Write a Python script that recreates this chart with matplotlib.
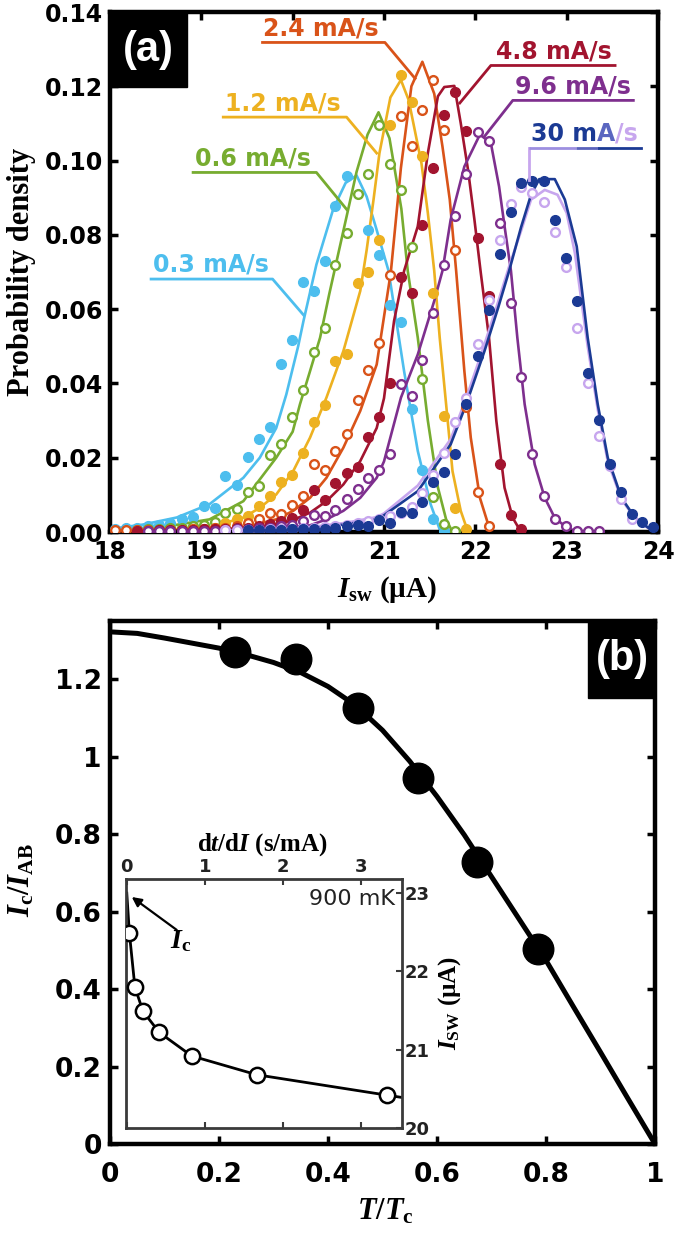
import matplotlib
matplotlib.use('Agg')
import matplotlib.pyplot as plt
from matplotlib.patches import Rectangle
from matplotlib.ticker import FixedLocator, FormatStrFormatter

plt.rcParams['mathtext.fontset'] = 'custom'
plt.rcParams['mathtext.rm'] = 'Liberation Serif:bold'
plt.rcParams['mathtext.it'] = 'Liberation Serif:italic:bold'
plt.rcParams['mathtext.bf'] = 'Liberation Serif:bold'

# ---------------- DATA: panel (a) ----------------
rates = ['0.3 mA/s', '0.6 mA/s', '1.2 mA/s', '2.4 mA/s', '4.8 mA/s', '9.6 mA/s', '30 mA/s']

x03 = [18.05,18.18,18.30,18.42,18.54,18.66,18.79,18.91,19.03,19.15,19.26,19.39,19.51,19.63,19.75,19.87,19.99,20.11,20.23,20.35,20.46,20.59,20.83,20.95,21.07,21.19,21.31,21.42,21.54,21.66]
y03 = [0.0008,0.0010,0.0012,0.0015,0.0020,0.0025,0.0034,0.0040,0.0070,0.0065,0.0151,0.0127,0.0202,0.0251,0.0283,0.0451,0.0517,0.0673,0.0649,0.0730,0.0878,0.0958,0.0814,0.0746,0.0612,0.0566,0.0330,0.0166,0.0034,0.0003]

x06 = [18.30,18.42,18.54,18.66,18.79,18.91,19.03,19.15,19.26,19.39,19.51,19.63,19.75,19.87,19.99,20.11,20.23,20.35,20.46,20.59,20.71,20.83,20.95,21.07,21.19,21.31,21.42,21.54,21.66,21.78]
y06 = [0.0005,0.0007,0.0008,0.0010,0.0012,0.0015,0.0020,0.0028,0.0052,0.0063,0.0108,0.0124,0.0207,0.0236,0.0310,0.0381,0.0485,0.0550,0.0720,0.0805,0.0910,0.0965,0.1097,0.0990,0.0920,0.0768,0.0411,0.0094,0.0021,0.0003]

x12 = [18.42,18.54,18.66,18.79,18.91,19.03,19.15,19.26,19.39,19.51,19.63,19.75,19.87,19.99,20.11,20.23,20.35,20.46,20.59,20.71,20.83,20.95,21.07,21.19,21.31,21.42,21.54,21.66,21.78,21.90]
y12 = [0.0003,0.0004,0.0005,0.0006,0.0008,0.0009,0.0012,0.0025,0.0034,0.0043,0.0070,0.0097,0.0135,0.0153,0.0213,0.0296,0.0341,0.0460,0.0478,0.0671,0.0700,0.0787,0.1095,0.1231,0.1157,0.1011,0.0644,0.0313,0.0064,0.0007]

x24 = [18.05,18.18,18.30,18.42,18.54,18.66,18.79,18.91,19.03,19.15,19.26,19.39,19.51,19.63,19.75,19.87,19.99,20.11,20.23,20.35,20.46,20.59,20.71,20.83,20.95,21.07,21.19,21.31,21.42,21.54,21.66,21.78,21.90,22.03,22.15]
y24 = [0.0005,0.0005,0.0005,0.0005,0.0005,0.0006,0.0006,0.0007,0.0008,0.0010,0.0012,0.0015,0.0025,0.0034,0.0052,0.0049,0.0073,0.0097,0.0184,0.0166,0.0218,0.0265,0.0355,0.0435,0.0510,0.0692,0.1121,0.1038,0.1137,0.1218,0.1083,0.0758,0.0336,0.0108,0.0016]

x48 = [18.30,18.42,18.54,18.66,18.79,18.91,19.03,19.15,19.26,19.39,19.51,19.63,19.75,19.87,19.99,20.11,20.23,20.35,20.46,20.59,20.71,20.83,20.95,21.07,21.19,21.31,21.42,21.54,21.66,21.78,21.90,22.03,22.15,22.27,22.39,22.50]
y48 = [0.0004,0.0004,0.0005,0.0005,0.0006,0.0006,0.0007,0.0008,0.0009,0.0010,0.0012,0.0015,0.0022,0.0030,0.0039,0.0060,0.0112,0.0085,0.0133,0.0160,0.0175,0.0257,0.0310,0.0400,0.0686,0.0644,0.0826,0.0980,0.1123,0.1184,0.1079,0.0792,0.0636,0.0184,0.0047,0.0007]

x96 = [18.42,18.54,18.66,18.79,18.91,19.03,19.15,19.26,19.39,19.51,19.63,19.75,19.87,19.99,20.11,20.23,20.35,20.46,20.59,20.71,20.83,20.95,21.07,21.19,21.31,21.42,21.54,21.66,21.78,21.90,22.03,22.15,22.27,22.39,22.50,22.62,22.75,22.87,22.99,23.11,23.23,23.35]
y96 = [0.0003,0.0003,0.0003,0.0003,0.0003,0.0003,0.0003,0.0005,0.0007,0.0008,0.0010,0.0012,0.0015,0.0018,0.0030,0.0047,0.0042,0.0060,0.0088,0.0115,0.0146,0.0166,0.0211,0.0399,0.0367,0.0462,0.0589,0.0718,0.0850,0.0964,0.1076,0.1052,0.0832,0.0616,0.0416,0.0211,0.0096,0.0034,0.0016,0.0004,0.0003,0.0003]

x30 = [19.51,19.63,19.75,19.87,19.99,20.11,20.23,20.35,20.46,20.59,20.71,20.83,20.95,21.07,21.19,21.31,21.42,21.54,21.66,21.78,21.90,22.03,22.15,22.27,22.39,22.50,22.62,22.75,22.87,22.99,23.11,23.23,23.35,23.47,23.59,23.71,23.83,23.95]
y30 = [0.0005,0.0005,0.0006,0.0006,0.0007,0.0007,0.0008,0.0008,0.0012,0.0017,0.0018,0.0016,0.0031,0.0025,0.0055,0.0052,0.0082,0.0135,0.0162,0.0211,0.0345,0.0474,0.0599,0.0749,0.0861,0.0939,0.0944,0.0944,0.0841,0.0738,0.0622,0.0429,0.0301,0.0184,0.0108,0.0048,0.0028,0.0013]

x30b = [19.26,19.39,19.51,19.63,19.75,19.87,19.99,20.11,20.23,20.35,20.46,20.59,20.71,20.83,20.95,21.07,21.19,21.31,21.42,21.54,21.66,21.78,21.90,22.03,22.15,22.27,22.39,22.50,22.62,22.75,22.87,22.99,23.11,23.23,23.35,23.47,23.59,23.71]
y30b = [0.0005,0.0005,0.0006,0.0006,0.0007,0.0008,0.0009,0.0010,0.0012,0.0014,0.0016,0.0020,0.0025,0.0030,0.0035,0.0043,0.0050,0.0067,0.0106,0.0153,0.0212,0.0295,0.0360,0.0507,0.0625,0.0787,0.0884,0.0930,0.0914,0.0888,0.0809,0.0713,0.0550,0.0402,0.0258,0.0177,0.0090,0.0035]

# fitted curves
fx03 = [18.0,18.36,18.73,19.09,19.46,19.64,19.82,19.93,20.06,20.12,20.26,20.445,20.58,20.70,20.81,20.92,21.05,21.22,21.37,21.51,21.62]
fy03 = [0.0008,0.0020,0.0039,0.0075,0.0146,0.0200,0.0280,0.0370,0.0500,0.0570,0.0720,0.0870,0.0940,0.0960,0.0903,0.0813,0.0703,0.0433,0.0218,0.0075,0.0]
fx06 = [18.0,18.5,19.09,19.46,19.82,20.0,20.08,20.19,20.30,20.4,20.5,20.6,20.7,20.82,20.94,21.06,21.19,21.26,21.37,21.48,21.59,21.68,21.75]
fy06 = [0.0003,0.0010,0.0034,0.0083,0.0200,0.0270,0.0344,0.0433,0.0523,0.0640,0.0750,0.0860,0.0970,0.1070,0.1130,0.1060,0.0870,0.0703,0.0523,0.0300,0.0120,0.0034,0.0]
fx12 = [18.0,18.5,19.09,19.46,19.64,19.82,20.006,20.19,20.37,20.555,20.74,20.81,20.885,20.95,21.07,21.185,21.27,21.41,21.48,21.55,21.61,21.68,21.75,21.84,21.92]
fy12 = [0.0002,0.0005,0.0012,0.0039,0.0065,0.0101,0.0164,0.0254,0.0362,0.0487,0.0649,0.0759,0.0894,0.1020,0.1170,0.1217,0.1163,0.0993,0.0859,0.0703,0.0523,0.0344,0.0164,0.0057,0.0]
fx24 = [18.0,18.5,19.09,19.46,19.82,20.006,20.19,20.37,20.555,20.74,20.92,21.075,21.185,21.30,21.42,21.55,21.64,21.72,21.79,21.88,21.95,22.05,22.14,22.2]
fy24 = [0.0003,0.0004,0.0005,0.0012,0.0034,0.0057,0.0092,0.0146,0.0227,0.0326,0.0451,0.0700,0.0980,0.1200,0.1266,0.1180,0.1038,0.0895,0.0703,0.0433,0.0254,0.0092,0.0021,0.0]
fx48 = [18.0,18.5,19.0,19.46,19.82,19.99,20.19,20.37,20.555,20.74,20.92,21.0,21.11,21.22,21.37,21.48,21.59,21.66,21.77,21.84,21.92,21.99,22.06,22.15,22.23,22.32,22.41,22.5]
fy48 = [0.0002,0.0003,0.0005,0.0009,0.0020,0.0031,0.0052,0.0083,0.0128,0.0191,0.0280,0.0360,0.0568,0.0703,0.0823,0.1020,0.1173,0.1198,0.1201,0.1101,0.0975,0.0841,0.0697,0.0523,0.0299,0.0119,0.0038,0.0]
fx96 = [18.0,19.0,19.46,19.82,20.19,20.37,20.555,20.74,20.92,21.0,21.186,21.37,21.55,21.64,21.73,21.88,22.05,22.17,22.26,22.32,22.39,22.46,22.54,22.65,22.76,22.87,23.0,23.1,23.3]
fy96 = [0.0,0.0002,0.0003,0.0009,0.0018,0.0034,0.0057,0.0092,0.0146,0.0190,0.0362,0.0478,0.0622,0.0703,0.0841,0.0984,0.1070,0.1047,0.0930,0.0823,0.0703,0.0523,0.0344,0.0182,0.0092,0.0038,0.0012,0.0002,0.0]
fx30 = [18.0,19.0,19.46,20.19,20.56,20.92,21.0,21.37,21.73,21.90,22.10,22.25,22.37,22.5,22.61,22.70,22.87,22.98,23.11,23.23,23.34,23.45,23.60,23.75,23.89,24.0]
fy30 = [0.0,0.0001,0.0003,0.0010,0.0020,0.0034,0.0045,0.0110,0.0236,0.0344,0.0487,0.0604,0.0703,0.0820,0.0908,0.0950,0.0950,0.0895,0.0769,0.0523,0.0344,0.0200,0.0092,0.0038,0.0012,0.0]
fx30b = [18.0,19.0,19.46,20.19,20.56,20.92,21.0,21.37,21.73,21.90,22.10,22.25,22.37,22.5,22.61,22.76,22.90,23.0,23.09,23.23,23.34,23.45,23.60,23.75,23.89,24.0]
fy30b = [0.0,0.0002,0.0005,0.0013,0.0024,0.0040,0.0050,0.0125,0.0250,0.0360,0.0505,0.0620,0.0715,0.0810,0.0895,0.0921,0.0908,0.0859,0.0751,0.0500,0.0330,0.0190,0.0088,0.0036,0.0011,0.0]

# ---------------- DATA: panel (b) ----------------
t_pts = [0.229, 0.341, 0.455, 0.565, 0.674, 0.786]
ic_pts = [1.270, 1.252, 1.125, 0.944, 0.728, 0.504]
t_fit = [0, 0.05, 0.1, 0.15, 0.2, 0.25, 0.3, 0.35, 0.4, 0.45, 0.5, 0.55, 0.6, 0.65, 0.7, 0.75, 0.8, 0.85, 0.9, 0.95, 1.0]
ic_fit = [1.322, 1.318, 1.306, 1.293, 1.280, 1.263, 1.243, 1.217, 1.181, 1.133, 1.068, 0.988, 0.897, 0.798, 0.690, 0.582, 0.474, 0.355, 0.237, 0.118, 0.0]

# inset
dtdI = [0.0333, 0.104, 0.208, 0.417, 0.833, 1.667, 3.333]
isw = [22.49, 21.80, 21.49, 21.22, 20.92, 20.68, 20.42]
dtdI_line = [0.0, 0.0333, 0.104, 0.208, 0.417, 0.833, 1.667, 3.333, 3.53]
isw_line = [23.0, 22.49, 21.80, 21.49, 21.22, 20.92, 20.68, 20.42, 20.39]

C03, C06, C12, C24 = '#4DBEEE', '#77AC30', '#EDB120', '#D95319'
C48, C96, C30, C30b = '#A2142F', '#7E2F8E', '#1B3A94', '#C7A6EE'

W, H = 675, 1239
fig = plt.figure(figsize=(W / 100, H / 100), dpi=100)

def fxp(px):
    return px / W

def fyp(py):
    return 1 - py / H

SANS_B = dict(family='DejaVu Sans', weight='bold')
SERIF_B = dict(family='Liberation Serif', weight='bold')

# ---------------- panel (a) ----------------
axA = fig.add_axes([fxp(110), fyp(532), fxp(658) - fxp(110), fyp(12) - fyp(532)])
axA.set_xlim(18, 24)
axA.set_ylim(0, 0.14)

series = [
    (x03, y03, fx03, fy03, C03, True),
    (x06, y06, fx06, fy06, C06, False),
    (x12, y12, fx12, fy12, C12, True),
    (x24, y24, fx24, fy24, C24, False),
    (x48, y48, fx48, fy48, C48, True),
    (x96, y96, fx96, fy96, C96, False),
    (x30b, y30b, fx30b, fy30b, C30b, False),
    (x30, y30, fx30, fy30, C30, True),
]
for xs, ys, lx, ly, c, filled in series:
    axA.plot(lx, ly, '-', color=c, lw=1.9, zorder=2)
for xs, ys, lx, ly, c, filled in series:
    if filled:
        axA.plot(xs, ys, 'o', color=c, ms=7, mec=c, zorder=3)
    else:
        axA.plot(xs, ys, 'o', mfc='white', mec=c, ms=6.3, mew=1.7, zorder=3)

# labels with underlines and leaders
def lab_right(text, c, xt, yu, xu0, xu1, xe, ye):
    axA.plot([xu0, xu1, xe], [yu, yu, ye], '-', color=c, lw=2.0, zorder=4)
    axA.text(xt, yu + 0.0019, text, color=c, fontsize=17, ha='left', va='baseline', zorder=5, **SANS_B)

def lab_left(text, c, xt, yu, xu0, xu1, xe, ye):
    axA.plot([xe, xu0, xu1], [ye, yu, yu], '-', color=c, lw=2.0, zorder=4)
    axA.text(xt, yu + 0.0019, text, color=c, fontsize=17, ha='left', va='baseline', zorder=5, **SANS_B)

lab_right(rates[0], C03, 18.47, 0.0681, 18.45, 19.78, 20.12, 0.0584)
lab_right(rates[1], C06, 18.93, 0.0968, 18.91, 20.26, 20.593, 0.0868)
lab_right(rates[2], C12, 19.26, 0.1117, 19.24, 20.59, 20.92, 0.1020)
lab_right(rates[3], C24, 19.68, 0.1318, 19.67, 21.01, 21.34, 0.1221)
lab_left(rates[4], C48, 22.23, 0.1256, 22.17, 23.53, 21.83, 0.1155)
lab_left(rates[5], C96, 22.43, 0.1162, 22.41, 23.73, 22.10, 0.1065)

# 30 mA/s label (gradient dark blue -> lavender)
axA.plot([22.59, 22.59], [0.0948, 0.1034], '-', color=C30b, lw=2.0, zorder=4)
axA.plot([22.59, 23.10], [0.1034, 0.1034], '-', color='#9d8fe0', lw=2.0, zorder=4, solid_capstyle='butt')
axA.plot([23.10, 23.35], [0.1034, 0.1034], '-', color='#5a62bb', lw=2.0, zorder=4, solid_capstyle='butt')
axA.plot([23.35, 23.81], [0.1034, 0.1034], '-', color=C30, lw=2.0, zorder=4)
t1 = axA.text(22.61, 0.1034 + 0.0019, '30 m', color=C30, fontsize=17, ha='left', va='baseline', zorder=5, **SANS_B)
t2 = axA.annotate('A', xy=(1, 0), xycoords=t1, color='#5a66c0', fontsize=17, ha='left', va='bottom', zorder=5, **SANS_B)
t3 = axA.annotate('/s', xy=(1, 0), xycoords=t2, color=C30b, fontsize=17, ha='left', va='bottom', zorder=5, **SANS_B)

axA.xaxis.set_major_locator(FixedLocator([18, 19, 20, 21, 22, 23, 24]))
axA.yaxis.set_major_locator(FixedLocator([0, 0.02, 0.04, 0.06, 0.08, 0.10, 0.12, 0.14]))
axA.yaxis.set_major_formatter(FormatStrFormatter('%.2f'))
axA.tick_params(direction='in', length=6, width=2.5, top=True, right=True, labelsize=17)
axA.tick_params(axis='x', pad=6)
axA.tick_params(axis='y', pad=5)
for lbl in axA.get_xticklabels() + axA.get_yticklabels():
    lbl.set_fontfamily('DejaVu Sans')
    lbl.set_fontweight('bold')
for s in axA.spines.values():
    s.set_linewidth(3.2)

axA.add_patch(Rectangle((0, 0.856), 0.1405, 0.144, transform=axA.transAxes, color='black', zorder=10, clip_on=False))
fig.text(fxp(148.5), fyp(50), '(a)', color='white', fontsize=30, ha='center', va='center',
         family='Liberation Sans', weight='bold', zorder=11)

fig.text(fxp(22), fyp(272), 'Probability density', rotation=90, ha='center', va='center', fontsize=22, **SERIF_B)
fig.text(fxp(387), fyp(590), r'$I_{\rm sw}$ (µA)', ha='center', va='center', fontsize=21, **SERIF_B)

# ---------------- panel (b) ----------------
axB = fig.add_axes([fxp(110), fyp(1144), fxp(655) - fxp(110), fyp(621) - fyp(1144)])
axB.set_xlim(0, 1.0)
axB.set_ylim(0, 1.35)
axB.plot(t_fit, ic_fit, '-', color='black', lw=3.6, zorder=2)
axB.plot(t_pts, ic_pts, 'o', color='black', ms=22, zorder=3)
axB.xaxis.set_major_locator(FixedLocator([0, 0.2, 0.4, 0.6, 0.8, 1.0]))
axB.yaxis.set_major_locator(FixedLocator([0, 0.2, 0.4, 0.6, 0.8, 1.0, 1.2]))
axB.set_xticklabels(['0', '0.2', '0.4', '0.6', '0.8', '1'])
axB.set_yticklabels(['0', '0.2', '0.4', '0.6', '0.8', '1', '1.2'])
axB.tick_params(direction='in', length=6, width=2.5, top=True, right=True, labelsize=19)
axB.tick_params(axis='x', pad=13)
axB.tick_params(axis='y', pad=6)
for lbl in axB.get_xticklabels() + axB.get_yticklabels():
    lbl.set_fontfamily('DejaVu Sans')
    lbl.set_fontweight('bold')
for s in axB.spines.values():
    s.set_linewidth(3.2)
axB.add_patch(Rectangle((0.877, 0.853), 0.123, 0.147, transform=axB.transAxes, color='black', zorder=10, clip_on=False))
fig.text(fxp(622), fyp(659), '(b)', color='white', fontsize=30, ha='center', va='center',
         family='Liberation Sans', weight='bold', zorder=11)

fig.text(fxp(22), fyp(880), r'$I_{\rm c}/I_{\rm AB}$', rotation=90, ha='center', va='center', fontsize=22, **SERIF_B)
fig.text(fxp(385), fyp(1212), r'$T/T_{\rm c}$', ha='center', va='center', fontsize=22, **SERIF_B)

# ---------------- inset ----------------
axI = fig.add_axes([fxp(126), fyp(1128), fxp(402) - fxp(126), fyp(879) - fyp(1128)])
axI.set_zorder(5)
axI.set_facecolor('white')
axI.set_xlim(-0.01, 3.53)
axI.set_ylim(20, 23.18)
axI.plot(dtdI_line, isw_line, '-', color='black', lw=2.0, zorder=2)
axI.plot(dtdI, isw, 'o', mfc='white', mec='black', ms=11, mew=1.8, zorder=3)
axI.xaxis.set_major_locator(FixedLocator([0, 1, 2, 3]))
axI.yaxis.set_major_locator(FixedLocator([20, 21, 22, 23]))
axI.tick_params(direction='in', length=4, width=1.5, top=True, bottom=True, labeltop=True, labelbottom=False,
                right=True, left=False, labelright=True, labelleft=False, labelsize=13, pad=2, color='#3a3a3a')
for lbl in axI.get_xticklabels() + axI.get_yticklabels():
    lbl.set_fontfamily('DejaVu Sans')
    lbl.set_fontweight('bold')
    lbl.set_color('#222222')
for s in axI.spines.values():
    s.set_linewidth(2.0)
    s.set_color('#3a3a3a')
axI.text(3.44, 22.93, '900 mK', ha='right', va='center', fontsize=16, family='DejaVu Sans', color='#222222')
axI.annotate('', xy=(0.064, 22.95), xytext=(0.64, 22.53),
             arrowprops=dict(arrowstyle='-|>', color='black', lw=1.6, mutation_scale=14, shrinkA=0, shrinkB=0))
axI.text(0.56, 22.38, r'$I_{\rm c}$', ha='left', va='center', fontsize=20, **SERIF_B)
fig.text(fxp(262), fyp(845), r'd$t$/d$I$ (s/mA)', ha='center', va='center', fontsize=18, **SERIF_B)
fig.text(fxp(450), fyp(1003), r'$I_{\rm SW}$ (µA)', rotation=90, ha='center', va='center', fontsize=18, **SERIF_B)

fig.savefig('out.png', dpi=100)
